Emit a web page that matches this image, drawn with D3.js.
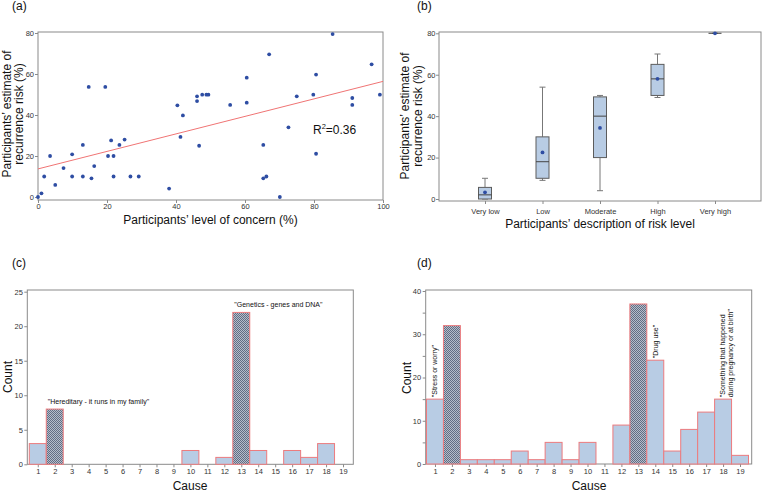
<!DOCTYPE html>
<html lang="en">
<head>
<meta charset="UTF-8">
<title>Perceived recurrence risk and causes</title>
<script src="https://cdn.jsdelivr.net/npm/d3@7"></script>
<style>
  body { margin: 0; background: #fff; }
  svg { font-family: "Liberation Sans", Arial, sans-serif; }
  .frame { fill: none; stroke: #8a8a8a; stroke-width: 1; }
  .tick text { fill: #333; font-size: 7.5px; }
  .tick line { stroke: #8a8a8a; }
  .axis-title { font-size: 12px; fill: #111; }
  .panel-label { font-size: 12px; fill: #111; }
  .note { font-size: 7px; fill: #111; }
</style>
</head>
<body>
<svg id="chart" width="763" height="492"></svg>
<script>
// (a) level of concern vs estimated recurrence risk
const concern  = [0, 1, 1.8, 3.5, 5, 7.4, 9.9, 9.9, 13, 13, 14.7, 15.5, 16.3, 19.5, 20.3, 21.2, 21.9, 21.9, 23.6, 25.1,
                  26.8, 29.2, 38, 40.4, 41.3, 42, 46.1, 46.1, 46.7, 47.6, 48.8, 49.4, 55.7, 60.5, 60.5, 65.3, 65.3, 66.2, 67, 70.1,
                  72.6, 75, 79.8, 80.6, 80.6, 85.4, 91.1, 91.1, 96.7, 99.1];
const estimate = [0, 1.8, 10, 20, 5.9, 14.1, 20.8, 10, 25.4, 10, 53.7, 9.1, 15.1, 53.7, 20, 27.6, 20, 10, 25.4, 28,
                  10, 10, 4.1, 44.7, 29.3, 39.8, 49.1, 46.8, 25, 49.9, 49.9, 49.9, 44.9, 58.2, 46, 25.4, 9.1, 10, 69.6, 0,
                  34, 49.1, 49.9, 59.7, 21.1, 79.5, 48.3, 44.9, 64.7, 49.9];
const fitIntercept = 13.7;
const fitSlope = 0.427;
const rSquared = "0.36";

// (b) risk level boxplots
const riskLevels = ["Very low", "Low", "Moderate", "High", "Very high"];
const boxMin    = [0, 9, 4, 49, 80];
const boxQ1     = [0, 10, 20, 50, 80];
const boxMedian = [2, 18, 40, 58, 80];
const boxQ3     = [5.6, 30, 49.3, 65, 80];
const boxMax    = [10, 54, 50, 70, 80];
const boxMean   = [3.2, 22.5, 34.3, 58, 80];

// (c) and (d) causes
const causes = d3.range(1, 20);
const countsC = [3, 8, 0, 0, 0, 0, 0, 0, 0, 2, 0, 1, 22, 2, 0, 2, 1, 3, 0];
const countsD = [15, 32, 1, 1, 1, 3, 1, 5, 1, 5, 0, 9, 37, 24, 3, 8, 12, 15, 2];
const hatchedC = [2, 13];
const hatchedD = [2, 13];
const notesC = [
  {cause: 2, text: "\"Hereditary - it runs in my family\""},
  {cause: 13, text: "\"Genetics - genes and DNA\""}
];
const notesD = [
  {cause: 1, lines: ["\"Stress or worry\""]},
  {cause: 14, lines: ["\"Drug use\""]},
  {cause: 18, lines: ["\"Something that happened", "during pregnancy or at birth\""]}
];

const svg = d3.select("#chart");

const defs = svg.append("defs");
const pat = defs.append("pattern").attr("id", "hatch")
  .attr("width", 2).attr("height", 2).attr("patternUnits", "userSpaceOnUse");
pat.append("rect").attr("width", 2).attr("height", 2).attr("fill", "#b4bdca");
pat.append("rect").attr("width", 1).attr("height", 1).attr("fill", "#616d84");
pat.append("rect").attr("x", 1).attr("y", 1).attr("width", 1).attr("height", 1).attr("fill", "#616d84");

function drawFrame(x0, x1, y0, y1) {
  svg.append("rect").attr("class", "frame")
    .attr("x", x0).attr("y", y0).attr("width", x1 - x0).attr("height", y1 - y0);
}

function leftAxis(y, x0, ticks, labelled, pad) {
  const axis = d3.axisLeft(y).tickValues(ticks).tickSize(3).tickPadding(pad)
    .tickFormat(d => labelled.includes(d) ? d : "");
  svg.append("g").attr("transform", `translate(${x0},0)`).call(axis)
    .call(g => g.select(".domain").remove());
}

function bottomAxis(x, y0, ticks, pad) {
  const axis = d3.axisBottom(x).tickSize(3).tickPadding(pad);
  if (ticks) axis.tickValues(ticks);
  svg.append("g").attr("transform", `translate(0,${y0})`).call(axis)
    .call(g => g.select(".domain").remove());
}

function yTitle(lines, x, y, gap) {
  lines.forEach((t, i) => {
    svg.append("text").attr("class", "axis-title")
      .attr("transform", `translate(${x + i * gap},${y}) rotate(-90)`)
      .attr("text-anchor", "middle").text(t);
  });
}

function xTitle(t, x, y) {
  svg.append("text").attr("class", "axis-title")
    .attr("x", x).attr("y", y).attr("text-anchor", "middle").text(t);
}

function panelLabel(t, x, y) {
  svg.append("text").attr("class", "panel-label").attr("x", x).attr("y", y).text(t);
}

// ---------- (a) ----------
const ax = d3.scaleLinear().domain([0, 100]).range([38, 383]);
const ay = d3.scaleLinear().domain([0, 80]).range([197, 33]);
drawFrame(38, 383, 32, 200);
leftAxis(ay, 38, [0, 20, 40, 60, 80], [0, 20, 40, 60, 80], 1);
bottomAxis(ax, 200, [0, 20, 40, 60, 80, 100], 1);

svg.append("line")
  .attr("x1", ax(0)).attr("y1", ay(fitIntercept))
  .attr("x2", ax(100)).attr("y2", ay(fitIntercept + fitSlope * 100))
  .attr("stroke", "#f07474").attr("stroke-width", 1);

svg.append("g").selectAll("circle")
  .data(concern.map((c, i) => [c, estimate[i]]))
  .join("circle")
  .attr("cx", d => ax(d[0])).attr("cy", d => ay(d[1]))
  .attr("r", 1.9).attr("fill", "#2e4da3");

const r2 = svg.append("text").attr("x", 313).attr("y", 133.5)
  .attr("font-size", 12).attr("fill", "#111");
r2.append("tspan").text("R");
r2.append("tspan").attr("font-size", 7.5).attr("dy", -5).text("2");
r2.append("tspan").attr("dy", 5).text("=" + rSquared);

yTitle(["Participants\u2019 estimate of", "recurrence risk (%)"], 10.5, 114, 12.8);
xTitle("Participants\u2019 level of concern (%)", 210.5, 224);
panelLabel("(a)", 12, 9.5);

// ---------- (b) ----------
const bx = d3.scalePoint().domain(riskLevels).range([439, 761]).padding(0.8);
const by = d3.scaleLinear().domain([0, 80]).range([199, 33.3]);
drawFrame(439, 761, 32, 201);
leftAxis(by, 439, [0, 20, 40, 60, 80], [0, 20, 40, 60, 80], 0.5);
bottomAxis(bx, 201, null, 4.5);

const boxW = 13, capW = 6;
riskLevels.forEach((lvl, i) => {
  const cx = bx(lvl);
  const g = svg.append("g");
  g.append("line").attr("x1", cx).attr("x2", cx)
    .attr("y1", by(boxMax[i])).attr("y2", by(boxQ3[i])).attr("stroke", "#777");
  g.append("line").attr("x1", cx).attr("x2", cx)
    .attr("y1", by(boxQ1[i])).attr("y2", by(boxMin[i])).attr("stroke", "#777");
  [boxMax[i], boxMin[i]].forEach(v => {
    g.append("line").attr("x1", cx - capW / 2).attr("x2", cx + capW / 2)
      .attr("y1", by(v)).attr("y2", by(v)).attr("stroke", "#777");
  });
  g.append("rect").attr("x", cx - boxW / 2).attr("width", boxW)
    .attr("y", by(boxQ3[i])).attr("height", by(boxQ1[i]) - by(boxQ3[i]))
    .attr("fill", "#b8cce4").attr("stroke", "#5c5c5c");
  g.append("line").attr("x1", cx - boxW / 2).attr("x2", cx + boxW / 2)
    .attr("y1", by(boxMedian[i])).attr("y2", by(boxMedian[i])).attr("stroke", "#444");
  g.append("circle").attr("cx", cx).attr("cy", by(boxMean[i])).attr("r", 1.9).attr("fill", "#2e4da3");
});

yTitle(["Participants\u2019 estimate of", "recurrence risk (%)"], 409, 116, 13);
xTitle("Participants\u2019 description of risk level", 600, 227.5);
panelLabel("(b)", 417, 9.5);

// ---------- bar panels ----------
function barPanel(opt) {
  const x = d3.scaleBand().domain(causes).range(opt.range).padding(0);
  const y = d3.scaleLinear().domain([0, opt.max]).range([opt.base, opt.top]);
  drawFrame(opt.left, opt.right, 290, opt.base);
  leftAxis(y, opt.left, opt.ticks, opt.labelled, 1.5);
  bottomAxis(d3.scalePoint().domain(causes).range([x(1) + x.bandwidth() / 2, x(19) + x.bandwidth() / 2]),
    opt.base, null, 1.8);
  svg.append("g").selectAll("rect")
    .data(causes.map((c, i) => ({cause: c, n: opt.counts[i]})).filter(d => d.n > 0))
    .join("rect")
    .attr("x", d => x(d.cause)).attr("width", x.bandwidth())
    .attr("y", d => y(d.n)).attr("height", d => y(0) - y(d.n))
    .attr("fill", d => opt.hatched.includes(d.cause) ? "url(#hatch)" : "#b8cce4")
    .attr("stroke", "#ec7b7e").attr("stroke-width", 1);
  return {x, y};
}

// (c)
const pc = barPanel({range: [29.3, 351.5], left: 27.3, right: 353.3, base: 464.3, top: 291.7, max: 25,
  ticks: [0, 5, 10, 15, 20, 25], labelled: [0, 5, 10, 15, 20, 25], counts: countsC, hatched: hatchedC});
notesC.forEach(n => {
  svg.append("text").attr("class", "note")
    .attr("x", pc.x(n.cause) + 1.5).attr("y", pc.y(countsC[n.cause - 1]) - 5).text(n.text);
});
yTitle(["Count"], 12.3, 377, 0);
xTitle("Cause", 190, 489.5);
panelLabel("(c)", 12, 267);

// (d)
const pd = barPanel({range: [426.5, 748.5], left: 425.7, right: 751.7, base: 464, top: 291, max: 40,
  ticks: [0, 5, 10, 15, 20, 25, 30, 35, 40], labelled: [0, 10, 20, 30, 40], counts: countsD, hatched: hatchedD});
notesD.forEach(n => {
  const cx = pd.x(n.cause) + pd.x.bandwidth() / 2;
  const y0 = pd.y(countsD[n.cause - 1]) - 2;
  const start = cx + 2.5 - (n.lines.length - 1) * 1;
  n.lines.forEach((t, i) => {
    svg.append("text").attr("class", "note")
      .attr("transform", `translate(${start + i * 8.6},${y0}) rotate(-90)`).text(t);
  });
});
yTitle(["Count"], 410.5, 378, 0);
xTitle("Cause", 589, 489.5);
panelLabel("(d)", 417, 267);
</script>
</body>
</html>
